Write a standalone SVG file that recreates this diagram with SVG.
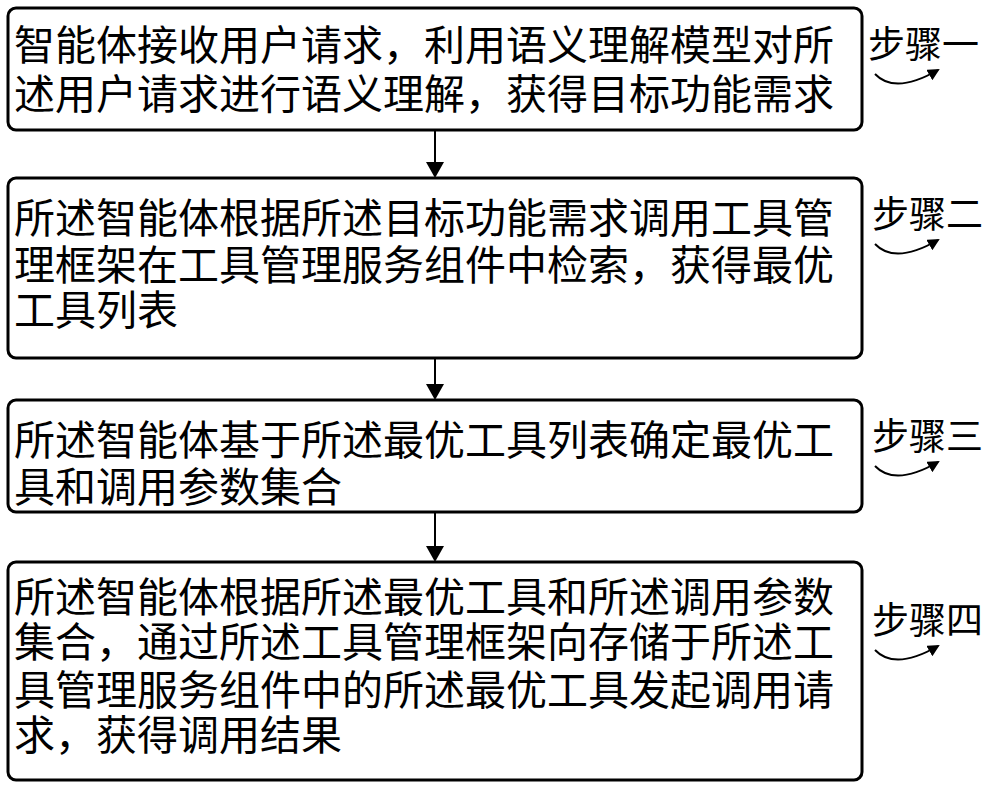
<svg xmlns="http://www.w3.org/2000/svg" width="1000" height="790" viewBox="0 0 1000 790">
<defs>
<marker id="ah" markerWidth="12" markerHeight="12" refX="10" refY="6" orient="auto" markerUnits="userSpaceOnUse"><path d="M0,0 L12,6 L0,12 Z" fill="#000"/></marker>
<marker id="ah2" markerWidth="16" markerHeight="18" refX="14" refY="9" orient="auto" markerUnits="userSpaceOnUse"><path d="M0,0 L16,9 L0,18 Z" fill="#000"/></marker>
</defs>
<style>
.b{fill:#fff;stroke:#000;stroke-width:3}
.t{font-family:"Liberation Serif","Noto Sans CJK SC",serif;font-size:41px;fill:#000}
.s{font-family:"Liberation Serif","Noto Sans CJK SC",serif;font-size:37px;fill:#000}
.c{fill:none;stroke:#000;stroke-width:2}
</style>
<g id="n1"><rect class="b" x="8" y="8" width="854" height="122" rx="8"/>
<text class="t" x="14" y="60">智能体接收用户请求，利用语义理解模型对所</text>
<text class="t" x="14" y="109">述用户请求进行语义理解，获得目标功能需求</text></g>
<g id="n2"><rect class="b" x="8" y="178" width="854" height="180" rx="8"/>
<text class="t" x="14" y="233">所述智能体根据所述目标功能需求调用工具管</text>
<text class="t" x="14" y="280">理框架在工具管理服务组件中检索，获得最优</text>
<text class="t" x="14" y="325">工具列表</text></g>
<g id="n3"><rect class="b" x="8" y="400" width="854" height="112" rx="8"/>
<text class="t" x="14" y="455">所述智能体基于所述最优工具列表确定最优工</text>
<text class="t" x="14" y="502">具和调用参数集合</text></g>
<g id="n4"><rect class="b" x="8" y="562" width="854" height="218" rx="8"/>
<text class="t" x="14" y="612">所述智能体根据所述最优工具和所述调用参数</text>
<text class="t" x="14" y="657">集合，通过所述工具管理框架向存储于所述工</text>
<text class="t" x="14" y="705">具管理服务组件中的所述最优工具发起调用请</text>
<text class="t" x="14" y="750">求，获得调用结果</text></g>
<g id="labels">
<text class="s" x="868" y="58">步骤一</text>
<text class="s" x="872" y="228">步骤二</text>
<text class="s" x="872" y="450">步骤三</text>
<text class="s" x="872" y="634">步骤四</text>
</g>
<g id="connectors">
<line class="c" x1="435" y1="130" x2="435" y2="176" stroke-width="3" marker-end="url(#ah2)"/>
<line class="c" x1="435" y1="358" x2="435" y2="398" stroke-width="3" marker-end="url(#ah2)"/>
<line class="c" x1="435" y1="512" x2="435" y2="560" stroke-width="3" marker-end="url(#ah2)"/>
<path class="c" d="M875,74 Q895,95 938,70" marker-end="url(#ah)"/>
<path class="c" d="M875,244 Q895,265 938,240" marker-end="url(#ah)"/>
<path class="c" d="M875,466 Q895,487 938,462" marker-end="url(#ah)"/>
<path class="c" d="M875,650 Q895,671 938,646" marker-end="url(#ah)"/>
</g>
</svg>
